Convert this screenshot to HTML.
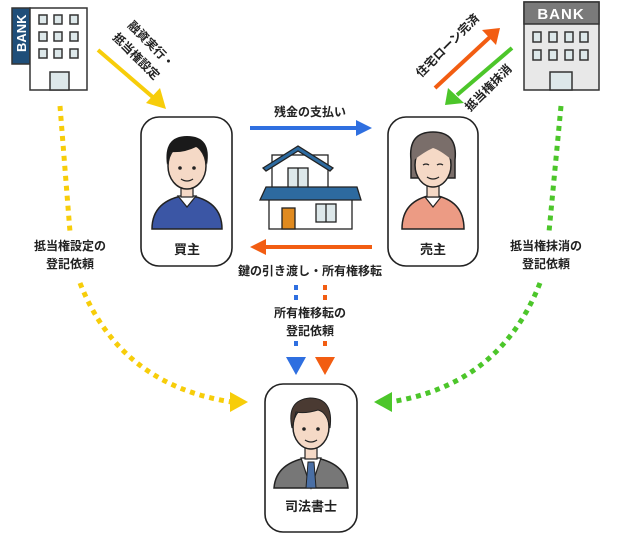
<!DOCTYPE html>
<html><head><meta charset="utf-8"><style>
html,body{margin:0;padding:0;background:#fff;}
svg{display:block;}
text{font-family:"Liberation Sans","Noto Sans CJK JP",sans-serif;font-weight:bold;fill:#222;}
</style></head><body>
<svg width="620" height="536" viewBox="0 0 620 536" xmlns="http://www.w3.org/2000/svg">
<defs>
<g id="face">
</g>
</defs>
<!-- Left bank -->
<rect x="12" y="8" width="18" height="56" fill="#1f4e79" stroke="#333" stroke-width="1.5"/>
<text x="0" y="0" transform="translate(26,52) rotate(-90)" font-size="13" style="fill:#fff">BANK</text>
<rect x="30" y="8" width="57" height="82" fill="#fff" stroke="#333" stroke-width="1.5"/>
<g fill="#dde8ea" stroke="#333" stroke-width="1.5">
<rect x="39" y="15" width="8" height="9"/><rect x="54" y="15" width="8" height="9"/><rect x="70" y="15" width="8" height="9"/>
<rect x="39" y="32" width="8" height="9"/><rect x="54" y="32" width="8" height="9"/><rect x="70" y="32" width="8" height="9"/>
<rect x="39" y="49" width="8" height="9"/><rect x="54" y="49" width="8" height="9"/><rect x="70" y="49" width="8" height="9"/>
<rect x="50" y="72" width="19" height="18"/>
</g>
<!-- Right bank -->
<rect x="524" y="2" width="75" height="88" fill="#e8e8e8" stroke="#333" stroke-width="1.5"/>
<rect x="524" y="2" width="75" height="22" fill="#7a7a7a" stroke="#333" stroke-width="1.5"/>
<text x="561" y="19" font-size="15" text-anchor="middle" style="fill:#fff" letter-spacing="1">BANK</text>
<g fill="#dde8ea" stroke="#333" stroke-width="1.5">
<rect x="533" y="32" width="8" height="10"/><rect x="549" y="32" width="8" height="10"/><rect x="565" y="32" width="8" height="10"/><rect x="580" y="32" width="8" height="10"/>
<rect x="533" y="50" width="8" height="10"/><rect x="549" y="50" width="8" height="10"/><rect x="565" y="50" width="8" height="10"/><rect x="580" y="50" width="8" height="10"/>
<rect x="550" y="72" width="22" height="18"/>
</g>
<!-- boxes -->
<g fill="#fff" stroke="#222" stroke-width="1.6">
<rect x="141" y="117" width="91" height="149" rx="18"/>
<rect x="388" y="117" width="90" height="149" rx="18"/>
<rect x="265" y="384" width="92" height="148" rx="18"/>
</g>
<text x="187" y="254" font-size="13" text-anchor="middle">買主</text>
<text x="433" y="254" font-size="13" text-anchor="middle">売主</text>
<text x="311" y="511" font-size="13" text-anchor="middle">司法書士</text>

<!-- buyer -->
<path d="M152 229 Q152 200 187 195 Q222 200 222 229 Z" fill="#3b56a5" stroke="#222" stroke-width="1.5"/>
<path d="M178 196 L187 207 L196 196 Z" fill="#fff" stroke="#222" stroke-width="1.2"/>
<rect x="181" y="185" width="12" height="12" fill="#f5d9c6" stroke="#222" stroke-width="1.2"/>
<ellipse cx="187" cy="166" rx="19" ry="23" fill="#f5d9c6" stroke="#222" stroke-width="1.5"/>
<path d="M167 165 Q163 136 187 136 Q212 136 207 165 Q204 150 196 147 Q184 153 171 152 Z" fill="#1a1a1a"/>
<circle cx="180" cy="168" r="1.8" fill="#222"/><circle cx="194" cy="168" r="1.8" fill="#222"/>
<path d="M181 179 Q187 183 193 179" stroke="#222" fill="none" stroke-width="1.3"/>

<!-- seller -->
<path d="M402 229 Q402 200 433 195 Q464 200 464 229 Z" fill="#ec9b84" stroke="#222" stroke-width="1.5"/>
<path d="M425 197 L433 207 L441 197 Z" fill="#fff" stroke="#222" stroke-width="1.2"/>
<rect x="427" y="183" width="12" height="14" fill="#f5d9c6" stroke="#222" stroke-width="1.2"/>
<path d="M411 160 Q408 132 433 132 Q458 132 455 160 L455 178 L411 178 Z" fill="#7a6e6a" stroke="#222" stroke-width="1.5"/>
<ellipse cx="433" cy="165" rx="18" ry="22" fill="#f5d9c6" stroke="#222" stroke-width="1.5"/>
<path d="M414 160 Q412 138 433 138 Q455 138 452 160 Q440 150 433 148 Q424 152 414 160 Z" fill="#7a6e6a"/>
<path d="M423 165 Q426 163 429 165 M437 165 Q440 163 443 165" stroke="#222" fill="none" stroke-width="1.3"/>
<path d="M427 177 Q433 181 439 177" stroke="#222" fill="none" stroke-width="1.3"/>

<!-- scrivener -->
<path d="M274 488 Q276 462 311 457 Q346 462 348 488 Z" fill="#777" stroke="#222" stroke-width="1.5"/>
<path d="M301 458 L311 488 L321 458 Z" fill="#fff" stroke="#222" stroke-width="1.2"/>
<path d="M308 462 L314 462 L316 488 L306 488 Z" fill="#4a6fa5" stroke="#222" stroke-width="1"/>
<rect x="305" y="447" width="12" height="12" fill="#f5d9c6" stroke="#222" stroke-width="1.2"/>
<ellipse cx="311" cy="427" rx="18" ry="22" fill="#f5d9c6" stroke="#222" stroke-width="1.5"/>
<path d="M292 428 Q286 400 310 398 Q334 398 330 428 Q327 412 318 410 Q305 414 296 412 Z" fill="#4a3a32" stroke="#222" stroke-width="1"/>
<circle cx="304" cy="429" r="1.8" fill="#222"/><circle cx="318" cy="429" r="1.8" fill="#222"/>
<path d="M305 440 Q311 444 317 440" stroke="#222" fill="none" stroke-width="1.3"/>

<!-- house -->
<g stroke="#222" stroke-width="1.3">
<rect x="272" y="155" width="56" height="33" fill="#fff"/>
<rect x="288" y="168" width="20" height="20" fill="#dde8ea"/><line x1="298" y1="168" x2="298" y2="188"/>
<path d="M263 168 L298 146 L333 168 L330 171 L298 151 L266 171 Z" fill="#2d6a9f"/>
<rect x="269" y="199" width="83" height="30" fill="#fff"/>
<path d="M266 187 L357 187 L361 200 L260 200 Z" fill="#2d6a9f"/>
<rect x="282" y="208" width="13" height="21" fill="#e08a1f"/>
<rect x="316" y="204" width="20" height="18" fill="#dde8ea"/><line x1="326" y1="204" x2="326" y2="222"/>
</g>

<!-- horizontal arrows -->
<line x1="250" y1="128" x2="358" y2="128" stroke="#2f6fe0" stroke-width="4"/>
<polygon points="356,120 372,128 356,136" fill="#2f6fe0"/>
<text x="310" y="116" font-size="12" text-anchor="middle">残金の支払い</text>
<line x1="264" y1="247" x2="372" y2="247" stroke="#f25d12" stroke-width="4"/>
<polygon points="266,239 250,247 266,255" fill="#f25d12"/>
<text x="310" y="275" font-size="12" text-anchor="middle">鍵の引き渡し・所有権移転</text>

<!-- diagonal yellow -->
<line x1="98" y1="50" x2="155" y2="99" stroke="#f7cd0a" stroke-width="4"/>
<polygon points="146,103 166,109 160,88" fill="#f7cd0a"/>
<text transform="translate(127,26) rotate(45)" font-size="12">融資実行・</text>
<text transform="translate(112,38) rotate(45)" font-size="12">抵当権設定</text>
<!-- orange to bank -->
<line x1="435" y1="88" x2="490" y2="37" stroke="#f25d12" stroke-width="4"/>
<polygon points="482,30 500,28 496,45" fill="#f25d12"/>
<text transform="translate(421,78) rotate(-45)" font-size="12">住宅ローン完済</text>
<!-- green to seller -->
<line x1="512" y1="48" x2="457" y2="95" stroke="#4cc62a" stroke-width="4"/>
<polygon points="448,88 445,105 464,103" fill="#4cc62a"/>
<text transform="translate(470,112) rotate(-45)" font-size="12">抵当権抹消</text>

<!-- dotted yellow -->
<path d="M60 106 L70 232" stroke="#f7cd0a" stroke-width="5" stroke-dasharray="5,5" fill="none"/>
<path d="M80 283 Q120 385 232 402" stroke="#f7cd0a" stroke-width="5" stroke-dasharray="5,5" fill="none"/>
<polygon points="230,392 248,402 230,412" fill="#f7cd0a"/>
<text x="70" y="250" font-size="12" text-anchor="middle">抵当権設定の</text>
<text x="70" y="268" font-size="12" text-anchor="middle">登記依頼</text>
<!-- dotted green -->
<path d="M561 106 L549 232" stroke="#4cc62a" stroke-width="5" stroke-dasharray="5,5" fill="none"/>
<path d="M540 283 Q500 385 390 402" stroke="#4cc62a" stroke-width="5" stroke-dasharray="5,5" fill="none"/>
<polygon points="392,392 374,402 392,412" fill="#4cc62a"/>
<text x="546" y="250" font-size="12" text-anchor="middle">抵当権抹消の</text>
<text x="546" y="268" font-size="12" text-anchor="middle">登記依頼</text>

<!-- vertical dotted -->
<path d="M296 285 L296 302 M296 341 L296 350" stroke="#2f6fe0" stroke-width="4" stroke-dasharray="5,5" fill="none"/>
<polygon points="286,357 306,357 296,375" fill="#2f6fe0"/>
<path d="M325 285 L325 302 M325 341 L325 350" stroke="#f25d12" stroke-width="4" stroke-dasharray="5,5" fill="none"/>
<polygon points="315,357 335,357 325,375" fill="#f25d12"/>
<text x="310" y="317" font-size="12" text-anchor="middle">所有権移転の</text>
<text x="310" y="335" font-size="12" text-anchor="middle">登記依頼</text>
</svg>
</body></html>
